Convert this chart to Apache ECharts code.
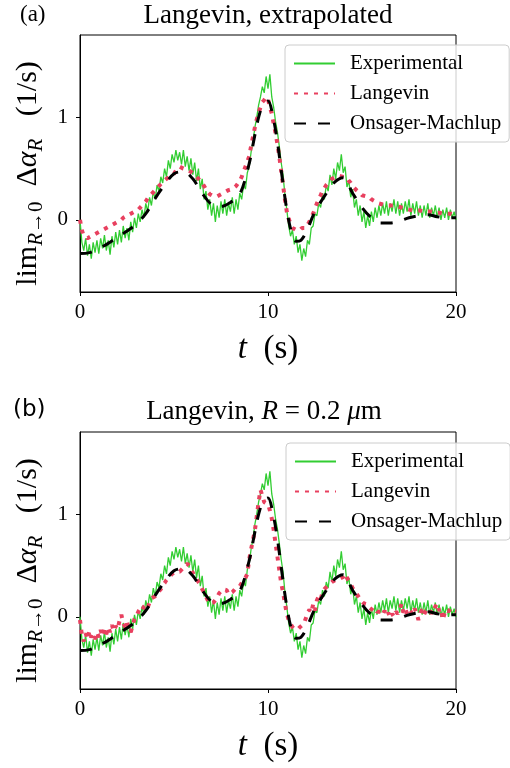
<!DOCTYPE html>
<html>
<head>
<meta charset="utf-8">
<script src="https://cdn.jsdelivr.net/npm/echarts@6/dist/echarts.min.js"></script>
<style>
html,body{margin:0;padding:0;background:#fff;}
#chart{width:510px;height:768px;}
</style>
</head>
<body>
<div id="chart"></div>
<script>
// time grid: 0 .. 20 s, step 0.1 s
const tStep = 0.1;

// Experimental (same in both panels)
const experimental = [
 0.00,-0.22,-0.30,-0.18,-0.35,-0.24,-0.38,-0.22,-0.32,-0.20,
 -0.33,-0.18,-0.28,-0.15,-0.30,-0.20,-0.34,-0.16,-0.27,-0.12,
 -0.24,-0.10,-0.22,-0.06,-0.18,-0.08,-0.20,-0.02,-0.12,0.02,
 -0.08,0.06,-0.02,0.10,0.02,0.16,0.08,0.22,0.14,0.28,
 0.20,0.34,0.28,0.42,0.36,0.50,0.42,0.58,0.50,0.64,
 0.56,0.68,0.58,0.66,0.54,0.68,0.52,0.62,0.48,0.60,
 0.44,0.56,0.38,0.50,0.30,0.40,0.20,0.28,0.10,0.20,
 0.04,0.16,-0.02,0.14,0.02,0.18,0.06,0.20,0.04,0.16,
 0.08,0.22,0.06,0.20,0.10,0.26,0.20,0.34,0.30,0.46,
 0.52,0.66,0.76,0.90,1.00,1.12,1.20,1.30,1.24,1.40,
 1.28,1.42,1.20,1.10,0.96,0.86,0.72,0.56,0.44,0.24,
 0.10,-0.06,-0.16,-0.10,-0.24,-0.16,-0.32,-0.24,-0.40,-0.28,
 -0.36,-0.20,-0.24,-0.08,-0.06,0.06,0.04,0.16,0.12,0.26,
 0.20,0.34,0.28,0.44,0.34,0.50,0.40,0.56,0.48,0.64,
 0.46,0.52,0.32,0.38,0.22,0.30,0.12,0.20,0.04,0.14,
 -0.02,0.08,-0.08,0.04,-0.06,0.08,-0.02,0.12,0.02,0.14,
 0.04,0.16,0.06,0.18,0.04,0.16,0.08,0.20,0.06,0.18,
 0.04,0.16,0.06,0.18,0.08,0.20,0.04,0.16,0.06,0.18,
 0.04,0.14,0.02,0.14,0.04,0.16,0.02,0.12,0.04,0.14,
 0.02,0.12,0.00,0.10,0.02,0.12,0.00,0.10,0.02,0.08,
 0.00
];

// Langevin, extrapolated (panel a)
const langevinA = [
 0.00,-0.10,-0.16,-0.17,-0.18,-0.17,-0.16,-0.16,-0.14,-0.14,
 -0.12,-0.12,-0.10,-0.10,-0.08,-0.08,-0.06,-0.06,-0.04,-0.03,
 -0.02,-0.01,0.00,0.02,0.03,0.04,0.05,0.06,0.07,0.08,
 0.09,0.10,0.12,0.14,0.16,0.18,0.21,0.23,0.25,0.27,
 0.29,0.31,0.33,0.35,0.37,0.38,0.40,0.41,0.42,0.42,
 0.45,0.48,0.50,0.52,0.51,0.50,0.50,0.49,0.48,0.47,
 0.46,0.44,0.42,0.41,0.38,0.36,0.33,0.30,0.27,0.25,
 0.24,0.23,0.23,0.23,0.24,0.25,0.26,0.27,0.28,0.29,
 0.29,0.30,0.31,0.33,0.34,0.38,0.42,0.47,0.52,0.57,
 0.62,0.72,0.81,0.90,0.98,1.04,1.10,1.15,1.17,1.20,
 1.18,1.10,1.04,0.94,0.85,0.74,0.62,0.48,0.34,0.20,
 0.08,0.01,-0.04,-0.08,-0.09,-0.10,-0.09,-0.10,-0.08,-0.09,
 -0.08,-0.05,-0.02,0.02,0.06,0.11,0.16,0.20,0.24,0.28,
 0.31,0.34,0.36,0.38,0.40,0.41,0.42,0.42,0.43,0.42,
 0.42,0.41,0.41,0.38,0.36,0.33,0.31,0.29,0.28,0.26,
 0.24,0.23,0.23,0.22,0.22,0.20,0.19,0.18,0.17,0.16,
 0.16,0.15,0.15,0.14,0.15,0.14,0.15,0.14,0.13,0.13,
 0.12,0.12,0.11,0.11,0.10,0.10,0.10,0.09,0.09,0.09,
 0.08,0.09,0.08,0.08,0.08,0.08,0.07,0.08,0.07,0.07,
 0.07,0.07,0.07,0.06,0.07,0.06,0.06,0.06,0.06,0.05,
 0.05
];

// Langevin, R = 0.2 um (panel b)
const langevinB = [
 -0.03,-0.18,-0.24,-0.16,-0.22,-0.14,-0.20,-0.17,-0.22,-0.15,
 -0.20,-0.13,-0.19,-0.12,-0.17,-0.10,-0.15,-0.08,-0.14,-0.09,
 -0.12,-0.04,0.02,-0.06,-0.10,-0.05,-0.12,-0.15,-0.08,-0.02,
 0.00,0.05,0.08,0.06,0.10,0.12,0.09,0.14,0.18,0.17,
 0.20,0.22,0.25,0.27,0.31,0.33,0.36,0.38,0.40,0.42,
 0.43,0.44,0.45,0.44,0.46,0.48,0.50,0.52,0.50,0.47,
 0.43,0.40,0.37,0.34,0.31,0.27,0.24,0.20,0.16,0.13,
 0.12,0.14,0.15,0.19,0.23,0.25,0.27,0.28,0.26,0.22,
 0.21,0.24,0.26,0.28,0.27,0.30,0.33,0.36,0.38,0.42,
 0.56,0.66,0.75,0.84,0.98,1.12,1.24,1.18,1.12,1.12,
 1.10,1.04,0.96,0.85,0.72,0.59,0.46,0.33,0.24,0.13,
 0.03,-0.03,-0.07,-0.10,-0.12,-0.13,-0.12,-0.10,-0.09,-0.07,
 -0.02,0.03,0.07,0.04,0.12,0.06,0.16,0.20,0.17,0.24,
 0.27,0.29,0.31,0.32,0.34,0.35,0.36,0.37,0.37,0.38,
 0.39,0.42,0.38,0.35,0.32,0.28,0.25,0.23,0.20,0.17,
 0.15,0.13,0.14,0.12,0.09,0.10,0.06,0.08,0.05,0.04,
 0.05,0.02,0.06,0.01,0.04,-0.01,0.03,0.00,0.05,0.03,
 0.06,0.13,0.04,0.08,0.03,0.07,0.05,0.02,0.08,0.04,
 -0.03,0.04,0.07,0.02,0.06,0.05,0.08,0.03,0.06,0.10,
 0.13,0.06,0.08,-0.03,0.04,0.07,0.05,0.08,0.06,0.07,
 0.05
];

// Onsager-Machlup (same in both panels)
const omT = [0,0.5,1,1.5,2,2.5,3,3.5,4,4.5,5,5.5,6,6.5,7,7.5,8,8.5,9,9.25,9.5,9.75,10,10.25,10.5,10.75,11,11.25,11.5,11.75,12,12.5,13,13.5,14,14.5,15,15.5,16,16.5,17,17.5,18,18.5,19,19.5,20];
const omV = [-0.33,-0.32,-0.28,-0.23,-0.17,-0.11,-0.04,0.06,0.21,0.34,0.45,0.47,0.40,0.26,0.15,0.13,0.17,0.25,0.55,0.78,1.00,1.13,1.16,1.02,0.76,0.42,0.10,-0.12,-0.21,-0.20,-0.13,0.08,0.23,0.36,0.41,0.26,0.12,0.02,-0.03,-0.03,-0.01,0.02,0.04,0.05,0.03,0.02,0.02];

const xTicks = [0, 10, 20];
const yTicks = [0, 1];
const seriesNames = ['Experimental', 'Langevin', 'Onsager-Machlup'];
const panelTitles = ['Langevin, extrapolated', 'Langevin, R = 0.2 μm'];
const panelTags = ['(a)', '(b)'];

const pairs = (vals) => vals.map((v, i) => [Math.round(i * tStep * 10) / 10, v]);
const omPairs = omT.map((t, i) => [t, omV[i]]);

const SERIF = 'Liberation Serif';
const GREEN = '#32cd32', RED = '#e8405f', BLACK = '#000';

const grids = [
  {left: 80, top: 35, width: 376, height: 257},
  {left: 80, top: 432, width: 376, height: 257}
].map(g => Object.assign(g, {show: true, borderColor: '#000', borderWidth: 1, backgroundColor: 'transparent'}));

function xAxis(i) {
  return {
    type: 'value', gridIndex: i, min: 0, max: 20, interval: 10,
    axisLine: {show: true, onZero: false, lineStyle: {color: '#000', width: 1}},
    axisTick: {show: true, inside: false, length: 4, lineStyle: {color: '#000', width: 1}},
    axisLabel: {color: '#000', fontFamily: SERIF, fontSize: 21, margin: 10,
      customValues: xTicks},
    splitLine: {show: false},
    name: '{i|t}{n|  (s)}', nameLocation: 'middle', nameGap: 39,
    nameTextStyle: {fontFamily: SERIF, fontSize: 33, color: '#000', lineHeight: 36,
      rich: {i: {fontFamily: SERIF, fontStyle: 'italic', fontSize: 33, lineHeight: 36},
             n: {fontFamily: SERIF, fontSize: 33, lineHeight: 36}}}
  };
}
function yAxis(i) {
  return {
    type: 'value', gridIndex: i, min: -0.705, max: 1.805,
    axisLine: {show: true, onZero: false, lineStyle: {color: '#000', width: 1}},
    axisTick: {show: true, inside: false, length: 4, customValues: yTicks, lineStyle: {color: '#000', width: 1}},
    axisLabel: {color: '#000', fontFamily: SERIF, fontSize: 21, margin: 12, customValues: yTicks},
    splitLine: {show: false},
    name: '{n|lim}{si|R}{s|→0}{n|  Δ}{ni|α}{si|R}{n|   (1/s)}',
    nameLocation: 'middle', nameRotate: 90, nameGap: 32,
    nameTextStyle: {fontFamily: SERIF, fontSize: 30, color: '#000', padding: [0, 20, 0, 0],
      rich: {
        n: {fontFamily: SERIF, fontSize: 30, lineHeight: 36},
        ni: {fontFamily: SERIF, fontSize: 30, fontStyle: 'italic', lineHeight: 36},
        s: {fontFamily: SERIF, fontSize: 21, lineHeight: 20, verticalAlign: 'bottom'},
        si: {fontFamily: SERIF, fontSize: 21, fontStyle: 'italic', lineHeight: 20, verticalAlign: 'bottom'}
      }}
  };
}

function panelSeries(i, lang) {
  return [
    {name: seriesNames[0], type: 'line', xAxisIndex: i, yAxisIndex: i, data: pairs(experimental),
     symbol: 'none', lineStyle: {color: GREEN, width: 1.3}, itemStyle: {color: GREEN}, z: 2},
    {name: seriesNames[1], type: 'line', xAxisIndex: i, yAxisIndex: i, data: pairs(lang),
     symbol: 'none', lineStyle: {color: RED, width: 4, type: [4, 6], cap: 'butt'}, itemStyle: {color: RED}, z: 3},
    {name: seriesNames[2], type: 'line', xAxisIndex: i, yAxisIndex: i, data: omPairs, smooth: 0.35,
     symbol: 'none', lineStyle: {color: BLACK, width: 3, type: [12, 12], cap: 'butt'}, itemStyle: {color: BLACK}, z: 4}
  ];
}

function legend(left, top) {
  return {
    data: seriesNames, orient: 'vertical', left: left, top: top,
    itemWidth: 41, itemHeight: 14, itemGap: 9,
    padding: [8, 8, 8, 8],
    backgroundColor: 'rgba(255,255,255,0.8)', borderColor: '#cccccc', borderWidth: 1, borderRadius: 4,
    itemStyle: {opacity: 0, color: 'transparent', borderWidth: 0},
    textStyle: {fontFamily: SERIF, fontSize: 21, color: '#000', lineHeight: 20, padding: [0, 0, 0, 10]},
    selectedMode: false
  };
}

const chart = echarts.init(document.getElementById('chart'), null, {renderer: 'canvas'});
chart.setOption({
  animation: false,
  backgroundColor: '#fff',
  grid: grids,
  xAxis: [xAxis(0), xAxis(1)],
  yAxis: [yAxis(0), yAxis(1)],
  legend: [legend(285, 45), legend(286, 443)],
  series: panelSeries(0, langevinA).concat(panelSeries(1, langevinB)),
  graphic: [
    {type: 'text', x: 268, y: 16, style: {text: panelTitles[0], font: '27px "Liberation Serif"', fill: '#000', align: 'center', verticalAlign: 'middle'}},
    {type: 'text', x: 20, y: 15, style: {text: panelTags[0], font: '23px "Liberation Serif"', fill: '#000', align: 'left', verticalAlign: 'middle'}},
    {type: 'text', x: 264, y: 412, style: {
      text: '{n|Langevin, }{i|R}{n| = 0.2 }{i|μ}{n|m}',
      align: 'center', verticalAlign: 'middle', fill: '#000',
      rich: {n: {fontFamily: SERIF, fontSize: 27, fill: '#000'}, i: {fontFamily: SERIF, fontSize: 27, fontStyle: 'italic', fill: '#000'}}}},
    {type: 'text', x: 13, y: 410, style: {text: panelTags[1], font: '23px "DejaVu Sans"', fill: '#000', align: 'left', verticalAlign: 'middle'}}
  ]
});
</script>
</body>
</html>
